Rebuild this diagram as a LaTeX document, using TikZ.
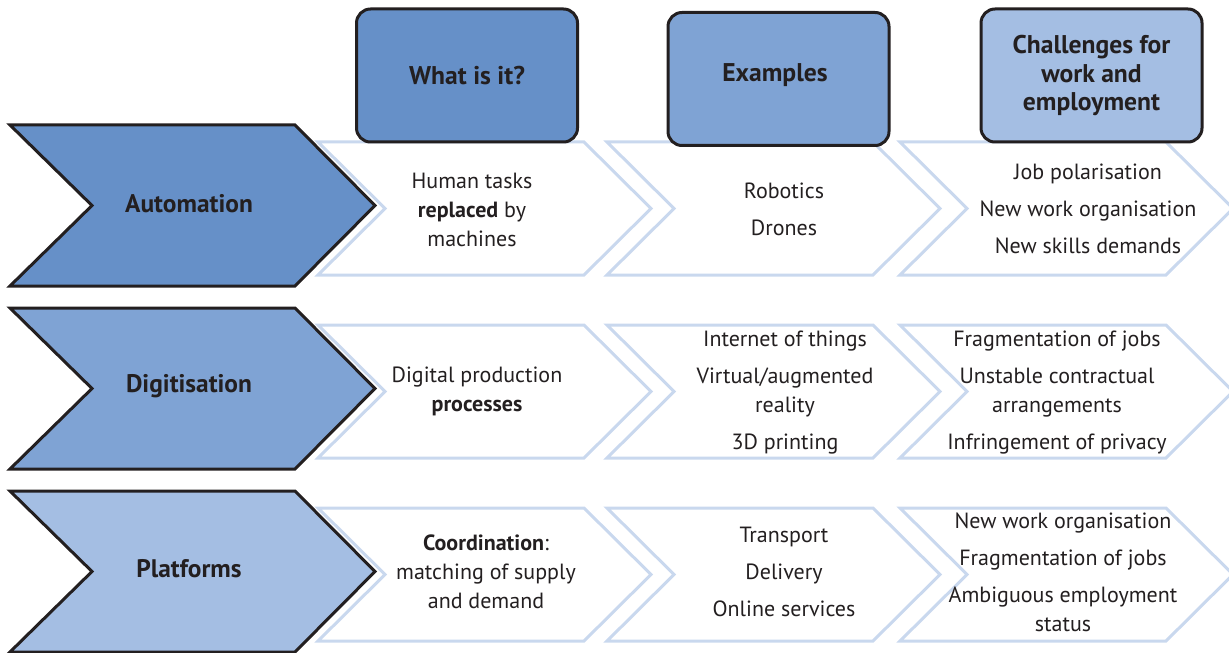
\documentclass[tikz,border=0pt]{standalone}
\usepackage{fontspec}
\setmainfont{PT Sans}
\definecolor{darkblue}{HTML}{6690C8}
\definecolor{midblue}{HTML}{7FA3D4}
\definecolor{lightblue}{HTML}{A4BEE3}
\definecolor{paleblue}{HTML}{C9D8EE}
\definecolor{ink}{HTML}{231F20}

\begin{document}
\begin{tikzpicture}[x=0.5pt, y=-0.5pt,
    bigarrow/.style={draw=ink, line width=1.5pt},
    outarrow/.style={draw=paleblue, line width=1.5pt, fill=white},
    headbox/.style={draw=ink, line width=1.5pt, rounded corners=7pt, minimum width=110.5pt, minimum height=66.5pt, align=center, font=\bfseries\fontsize{12.8}{14.25}\selectfont, text=ink},
    rowlabel/.style={font=\bfseries\fontsize{12.7}{14.25}\selectfont, text=ink},
    body/.style={align=center, font=\fontsize{11}{14.5}\selectfont, text=ink}]
    \useasboundingbox (0,0) rectangle (1229,652);
    \clip (0,0) rectangle (1229,652);
    % pale outlined arrows
    \foreach \t in {142,325,508}
      \foreach \x in {318,607,900}
        \draw [outarrow] (\x,\t) -- ++(266,0) -- ++(67,66.5) -- ++(-67,66.5) -- ++(-266,0) -- ++(67,-66.5) -- cycle;
    % row arrows
    \foreach \t/\c in {125/darkblue,308/midblue,491/lightblue}
      \draw [bigarrow, fill=\c] (10,\t) -- ++(285,0) -- ++(80,80.5) -- ++(-80,80.5) -- ++(-285,0) -- ++(82,-80.5) -- cycle;
    \node (auto) at (189,204) [rowlabel] {Automation};
    \node (digi) at (189,386) [rowlabel] {Digitisation};
    \node (plat) at (189,569) [rowlabel] {Platforms};
    % column heads
    \node (what) at (467,75.5) [headbox, fill=darkblue] {What is it?};
    \node (exam) at (778.5,79) [headbox, fill=midblue] {};
    \node (examtext) at (775,75) [rowlabel, font=\bfseries\fontsize{12.8}{14.25}\selectfont] {Examples};
    \node (chal) at (1091.5,75.5) [headbox, fill=lightblue] {Challenges for\\work and\\employment};
    % cells
    \node (autowhat) at (472,210) [body] {Human tasks\\\textbf{replaced} by\\machines};
    \node (autoex) at (784,209) [body] {Robotics\\[4pt]Drones};
    \node (autochal) at (1088,209) [body] {Job polarisation\\[4pt]New work organisation\\[4pt]New skills demands};
    \node (digiwhat) at (477,391.5) [body] {Digital production\\\textbf{processes}};
    \node (digiex) at (785,393) [body] {Internet of things\\[4pt]Virtual/augmented\\reality\\[4pt]3D printing};
    \node (digichal) at (1057,393) [body] {Fragmentation of jobs\\[4pt]Unstable contractual\\arrangements\\[4pt]Infringement of privacy};
    \node (platwhat) at (486,572) [body] {\textbf{Coordination}:\\matching of supply\\and demand};
    \node (platex) at (784,571.5) [body] {Transport\\[4pt]Delivery\\[4pt]Online services};
    \node (platchal) at (1063,572) [body] {New work organisation\\[4pt]Fragmentation of jobs\\[4pt]Ambiguous employment\\status};
\end{tikzpicture}
\end{document}
